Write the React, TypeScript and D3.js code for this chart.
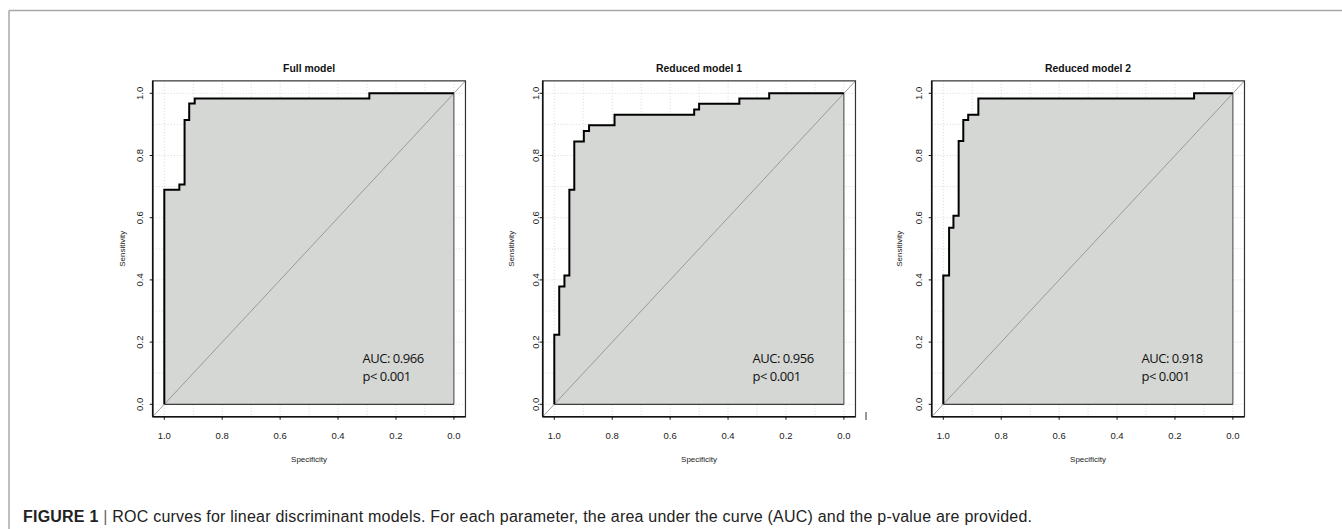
import React from "react";
import * as d3 from "d3";

// ---- data ----
const modelTitles = ["Full model", "Reduced model 1", "Reduced model 2"];
const aucLabels = ["AUC: 0.966", "AUC: 0.956", "AUC: 0.918"];
const pLabels = ["p< 0.001", "p< 0.001", "p< 0.001"];

// ROC corner points (specificity, sensitivity), step after
const fullSpec = [1, 1, 0.948, 0.93, 0.914, 0.895, 0.292, 0];
const fullSens = [0, 0.69, 0.707, 0.914, 0.967, 0.983, 1, 1];

const red1Spec = [1, 1, 0.983, 0.965, 0.948, 0.931, 0.898, 0.88, 0.792, 0.517, 0.5, 0.361, 0.258, 0];
const red1Sens = [0, 0.224, 0.379, 0.414, 0.69, 0.845, 0.879, 0.897, 0.931, 0.948, 0.966, 0.983, 1, 1];

const red2Spec = [1, 1, 0.98, 0.965, 0.947, 0.931, 0.914, 0.879, 0.134, 0];
const red2Sens = [0, 0.414, 0.568, 0.606, 0.847, 0.914, 0.931, 0.983, 1, 1];

const specSeries = [fullSpec, red1Spec, red2Spec];
const sensSeries = [fullSens, red1Sens, red2Sens];

const tickValues = [0, 0.2, 0.4, 0.6, 0.8, 1.0];
const gridValues = [0, 0.1, 0.2, 0.3, 0.4, 0.5, 0.6, 0.7, 0.8, 0.9, 1.0];

const captionBold = "FIGURE 1";
const captionText =
  "ROC curves for linear discriminant models. For each parameter, the area under the curve (AUC) and the p-value are provided.";

// ---- layout ----
const W = 1342;
const H = 529;
const panelX0 = [164.3, 554.3, 943.3]; // pixel x of specificity 1.0
const dataW = 289.6;
const yTop = 93.3;
const yBottom = 404.3;
const yTickLabelX = [139.3, 535.5, 919];
const sensLabelX = [121.7, 511, 898.5];
const AXIS_FONT = "'Liberation Sans', Arial, Helvetica, sans-serif";

function Panel({ i }: { i: number }) {
  const x = d3.scaleLinear().domain([1, 0]).range([panelX0[i], panelX0[i] + dataW]);
  const y = d3.scaleLinear().domain([0, 1]).range([yBottom, yTop]);
  const bx0 = x(1.04);
  const bx1 = x(-0.04);
  const by0 = y(1.04);
  const by1 = y(-0.04);
  const pts: [number, number][] = specSeries[i].map((s, k) => [s, sensSeries[i][k]]);
  const line = d3
    .line<[number, number]>()
    .x((d) => x(d[0]))
    .y((d) => y(d[1]))
    .curve(d3.curveStepAfter);
  const area = d3
    .area<[number, number]>()
    .x((d) => x(d[0]))
    .y0(y(0))
    .y1((d) => y(d[1]))
    .curve(d3.curveStepAfter);
  const clipId = `clip${i}`;
  const cx = (x(0) + x(1)) / 2;
  return (
    <g>
      <defs>
        <clipPath id={clipId}>
          <rect x={bx0} y={by0} width={bx1 - bx0} height={by1 - by0} />
        </clipPath>
      </defs>
      {/* grid */}
      <g clipPath={`url(#${clipId})`}>
        {gridValues.map((g) => (
          <line key={"v" + g} x1={x(g)} x2={x(g)} y1={by0} y2={by1} stroke="#cfcfcf" strokeWidth={0.8} strokeDasharray="1,2" />
        ))}
        {gridValues.map((g) => (
          <line key={"h" + g} x1={bx0} x2={bx1} y1={y(g)} y2={y(g)} stroke="#cfcfcf" strokeWidth={0.8} strokeDasharray="1,2" />
        ))}
        {/* AUC polygon */}
        <path d={area(pts) || ""} fill="#d5d7d4" stroke="none" />
        <line x1={x(1)} x2={x(0)} y1={y(0)} y2={y(0)} stroke="#111" strokeWidth={1} />
        <line x1={x(0)} x2={x(0)} y1={y(0)} y2={y(1)} stroke="#444" strokeWidth={1} />
        {/* diagonal */}
        <line x1={x(1.04)} y1={y(-0.04)} x2={x(-0.04)} y2={y(1.04)} stroke="#939393" strokeWidth={0.9} />
        {/* ROC curve */}
        <path d={line(pts) || ""} fill="none" stroke="#000" strokeWidth={2} strokeLinejoin="miter" />
      </g>
      {/* box */}
      <rect x={bx0} y={by0} width={bx1 - bx0} height={by1 - by0} fill="none" stroke="#333" strokeWidth={1.2} />
      <line x1={bx0} x2={bx1} y1={by1} y2={by1} stroke="#111" strokeWidth={1.6} />
      <line x1={bx0} x2={bx0} y1={by0} y2={by1} stroke="#111" strokeWidth={1.6} />
      {/* x ticks */}
      {tickValues.map((t) => (
        <g key={"xt" + t}>
          <line x1={x(t)} x2={x(t)} y1={by1} y2={by1 + 3} stroke="#111" strokeWidth={1} />
          <text x={x(t)} y={438.6} textAnchor="middle" fontSize={9.5} fontFamily={AXIS_FONT} fill="#222">
            {t.toFixed(1)}
          </text>
        </g>
      ))}
      {/* y ticks */}
      {tickValues.map((t) => (
        <g key={"yt" + t}>
          <line x1={bx0} x2={bx0 - 3} y1={y(t)} y2={y(t)} stroke="#111" strokeWidth={1} />
          <text
            transform={`translate(${yTickLabelX[i] + 3.4},${y(t)}) rotate(-90)`}
            textAnchor="middle"
            fontSize={9.5}
            fontFamily={AXIS_FONT}
            fill="#222"
          >
            {t.toFixed(1)}
          </text>
        </g>
      ))}
      {/* titles */}
      <text x={cx} y={72.3} textAnchor="middle" fontSize={10.4} fontWeight="bold" fontFamily={AXIS_FONT} fill="#111">
        {modelTitles[i]}
      </text>
      <text x={cx} y={462} textAnchor="middle" fontSize={8} fontFamily={AXIS_FONT} fill="#222">
        Specificity
      </text>
      <text
        transform={`translate(${sensLabelX[i] + 3},${(yTop + yBottom) / 2}) rotate(-90)`}
        textAnchor="middle"
        fontSize={8}
        fontFamily={AXIS_FONT}
        fill="#222"
      >
        Sensitivity
      </text>
      {/* AUC annotation */}
      <text x={x(0.316)} y={y(0.132)} fontSize={13} fontFamily="'Open Sans', Lato, sans-serif" letterSpacing={-0.45} fill="#111">
        {aucLabels[i]}
      </text>
      <text x={x(0.316)} y={y(0.132) + 17.4} fontSize={13} fontFamily="'Open Sans', Lato, sans-serif" letterSpacing={-0.45} fill="#111">
        {pLabels[i]}
      </text>
    </g>
  );
}

export default function App() {
  return (
    <svg
      width={W}
      height={H}
      viewBox={`0 0 ${W} ${H}`}
      style={{ position: "absolute", left: 0, top: 0, display: "block", background: "#fff" }}
    >
      <rect x={0} y={0} width={W} height={H} fill="#fff" />
      {/* figure frame */}
      <line x1={9} x2={W} y1={10.5} y2={10.5} stroke="#a8a8a8" strokeWidth={1.5} />
      <line x1={9} x2={9} y1={10.5} y2={H} stroke="#a8a8a8" strokeWidth={1.5} />
      {[0, 1, 2].map((i) => (
        <Panel key={i} i={i} />
      ))}
      <line x1={866} x2={866} y1={412} y2={420} stroke="#333" strokeWidth={1} />
      {/* caption */}
      <text x={23} y={522} fontSize={16} letterSpacing={0.22} fontFamily={AXIS_FONT} fill="#222">
        <tspan fontWeight="bold">{captionBold}</tspan>
        <tspan fill="#666"> | </tspan>
        <tspan>{captionText}</tspan>
      </text>
    </svg>
  );
}
